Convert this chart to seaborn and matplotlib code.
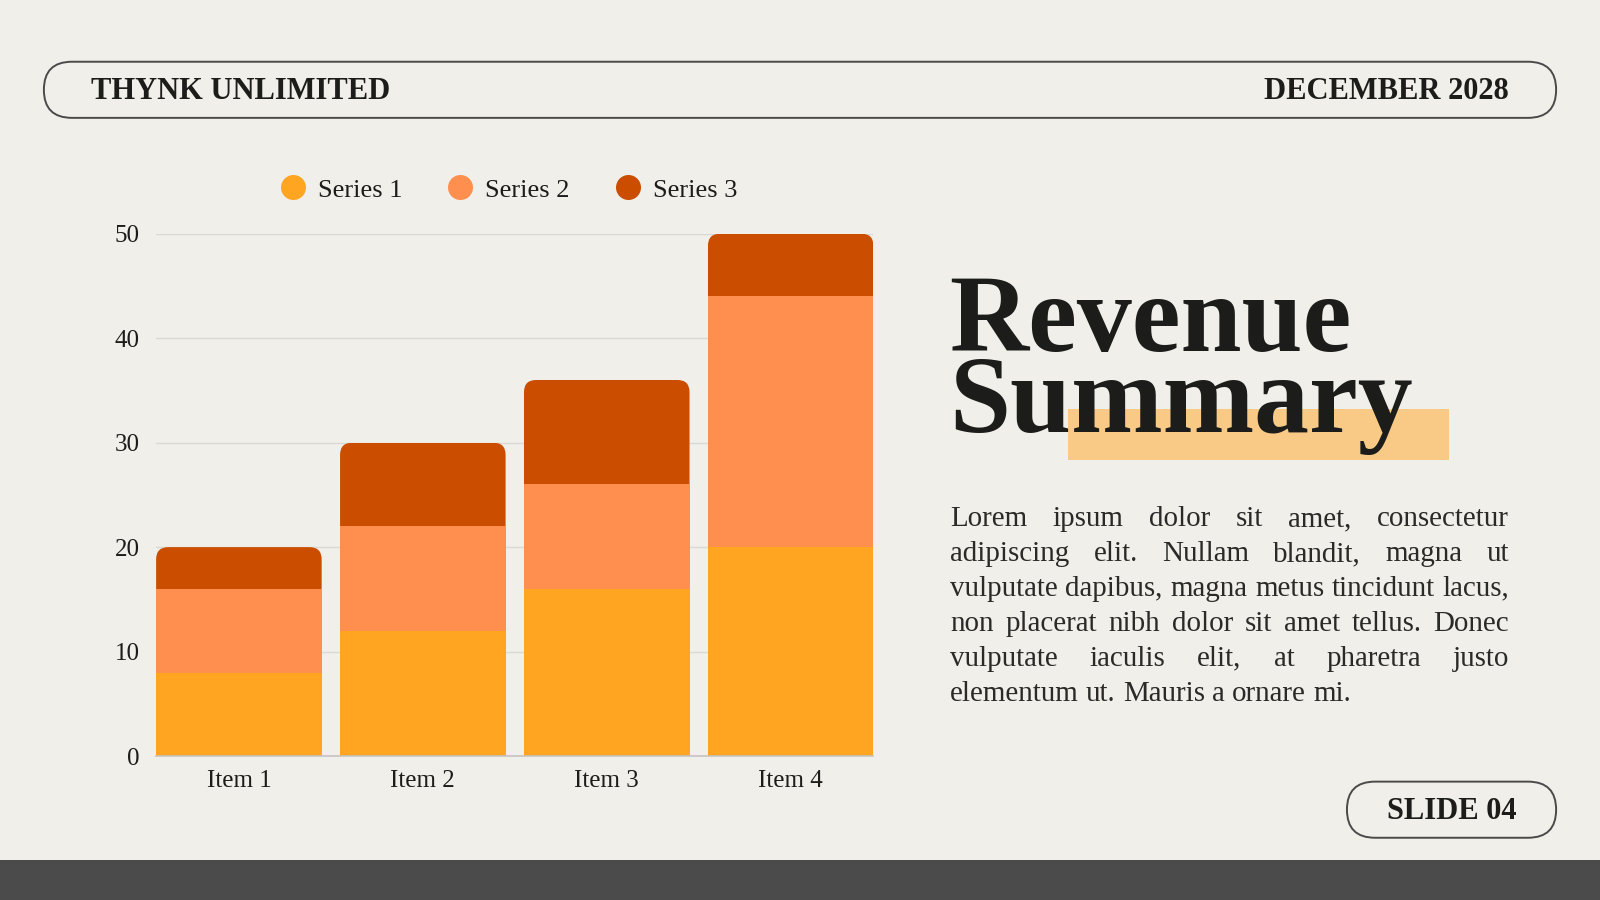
import pandas as pd
import matplotlib
matplotlib.use("Agg")
import matplotlib.pyplot as plt
import seaborn as sns
from matplotlib.patches import FancyBboxPatch, Rectangle
from matplotlib.lines import Line2D

# -----------------------------
# data
# -----------------------------
items = ["Item 1", "Item 2", "Item 3", "Item 4"]
series_1 = [8, 12, 16, 20]
series_2 = [8, 10, 10, 24]
series_3 = [4, 8, 10, 6]
series_names = ["Series 1", "Series 2", "Series 3"]
series_colors = ["#FFA522", "#FF8F4E", "#CB4E00"]
y_ticks = [0, 10, 20, 30, 40, 50]

company = "THYNK UNLIMITED"
date_label = "DECEMBER 2028"
slide_label = "SLIDE 04"
title_lines = ["Revenue", "Summary"]
body_lines = [
    "Lorem ipsum dolor sit amet, consectetur",
    "adipiscing elit. Nullam blandit, magna ut",
    "vulputate dapibus, magna metus tincidunt lacus,",
    "non placerat nibh dolor sit amet tellus. Donec",
    "vulputate iaculis elit, at pharetra justo",
    "elementum ut. Mauris a ornare mi.",
]

# -----------------------------
# style
# -----------------------------
sns.set_theme(style="white")
plt.rcParams["font.family"] = ["Liberation Serif", "DejaVu Serif"]

BG = "#F0EFEA"
INK = "#1C1C1A"
W, H = 1568, 882          # layout units (page pixels)
SCALE = 1600 / W

fig = plt.figure(figsize=(16, 9), dpi=100)
fig.patch.set_facecolor(BG)

# page layer in page-pixel coordinates
bg = fig.add_axes([0, 0, 1, 1], zorder=0)
bg.set_xlim(0, W)
bg.set_ylim(H, 0)
bg.axis("off")

# header pill
bg.add_patch(FancyBboxPatch((43, 60.5), 1482, 55, boxstyle="round,pad=0,rounding_size=27.5",
                            fc="none", ec="#4A4A4A", lw=1.4))
bg.text(89, 97, company, fontsize=22, fontweight="bold", color=INK, ha="left", va="baseline")
bg.text(1479, 97, date_label, fontsize=22, fontweight="bold", color=INK, ha="right", va="baseline")

# slide pill + bottom band
bg.add_patch(FancyBboxPatch((1320, 766), 205, 55, boxstyle="round,pad=0,rounding_size=27.5",
                            fc="none", ec="#4A4A4A", lw=1.4))
bg.text(1422.5, 803, slide_label, fontsize=22, fontweight="bold", color=INK, ha="center", va="baseline")
bg.add_patch(Rectangle((0, 843), W, 40, fc="#4B4B4B", ec="none"))

# title with highlight (one text block, two lines; baseline = last line)
bg.add_patch(Rectangle((1047, 401), 373, 50, fc="#F8CA86", ec="none", zorder=1))
bg.text(930, 423, "\n".join(title_lines), fontsize=79, fontweight="bold", color=INK,
        ha="left", va="baseline", linespacing=0.75, zorder=2)

# -----------------------------
# chart
# -----------------------------
ax = fig.add_axes([153 / W, 1 - 741 / H, (856 - 153) / W, (741 - 229) / H], zorder=1)
ax.patch.set_alpha(0)

df = pd.DataFrame({"item": items, "s1": series_1, "s2": series_2, "s3": series_3})
df["s12"] = df["s1"] + df["s2"]
df["total"] = df["s12"] + df["s3"]

sns.barplot(data=df, x="item", y="total", color=series_colors[2], saturation=1,
            width=0.9, linewidth=0, ax=ax)
top_bars = list(ax.patches)
sns.barplot(data=df, x="item", y="s12", color=series_colors[1], saturation=1,
            width=0.9, linewidth=0, ax=ax)
sns.barplot(data=df, x="item", y="s1", color=series_colors[0], saturation=1,
            width=0.9, linewidth=0, ax=ax)

ax.set_xlim(-0.45, len(items) - 0.55)
ax.set_ylim(0, 50)
ax.set_yticks(y_ticks)
ax.set_xlabel("")
ax.set_ylabel("")
ax.set_axisbelow(True)
ax.yaxis.grid(True, color="#D8D8D4", lw=1)
ax.xaxis.grid(False)
for s in ["top", "right", "left"]:
    ax.spines[s].set_visible(False)
ax.spines["bottom"].set_color("#C4C4C0")
ax.spines["bottom"].set_linewidth(1.2)
ax.tick_params(axis="y", length=0, pad=12, labelsize=18, labelcolor=INK)
ax.tick_params(axis="x", length=0, pad=10, labelsize=18, labelcolor=INK)

# rounded top corners on each stack
pos = ax.get_position()
px_x = pos.width * 1600 / (ax.get_xlim()[1] - ax.get_xlim()[0])
px_y = pos.height * 900 / (ax.get_ylim()[1] - ax.get_ylim()[0])
aspect = px_x / px_y
r = 12 * SCALE / px_x
for p in top_bars:
    clip = FancyBboxPatch((p.get_x(), -10), p.get_width(), p.get_height() + 10,
                          boxstyle=f"round,pad=0,rounding_size={r}",
                          mutation_aspect=aspect, transform=ax.transData)
    p.set_clip_path(clip)

# legend
handles = [Line2D([], [], marker="o", ls="", markersize=18, markerfacecolor=c,
                  markeredgewidth=0) for c in series_colors]
ax.legend(handles, series_names, ncol=3, frameon=False, loc="center left",
          bbox_to_anchor=(274, 186), bbox_transform=bg.transData,
          borderpad=0, borderaxespad=0, handlelength=1.0, handletextpad=0.45,
          columnspacing=1.7, prop={"size": 19}, labelcolor=INK)

# -----------------------------
# justified body text
# -----------------------------
fig.canvas.draw()
renderer = fig.canvas.get_renderer()


def text_width(s, fs):
    t = bg.text(0, 0, s, fontsize=fs)
    w = t.get_window_extent(renderer).width / SCALE
    t.remove()
    return w


left, right = 931, 1479
box_w = right - left
fs = min(10 * box_w / text_width(line, 10) for line in body_lines[:-1])
space = text_width("a a", fs) - text_width("aa", fs)
baseline = 515.5
for i, line in enumerate(body_lines):
    words = line.split()
    widths = [text_width(w, fs) for w in words]
    if i < len(body_lines) - 1:
        gap = (box_w - sum(widths)) / (len(words) - 1)
    else:
        gap = space
    x = left
    for w, ww in zip(words, widths):
        bg.text(x, baseline + i * 34.2, w, fontsize=fs, color="#2A2A28", ha="left", va="baseline")
        x += ww + gap

fig.savefig("out.png", dpi=100, facecolor=BG)
